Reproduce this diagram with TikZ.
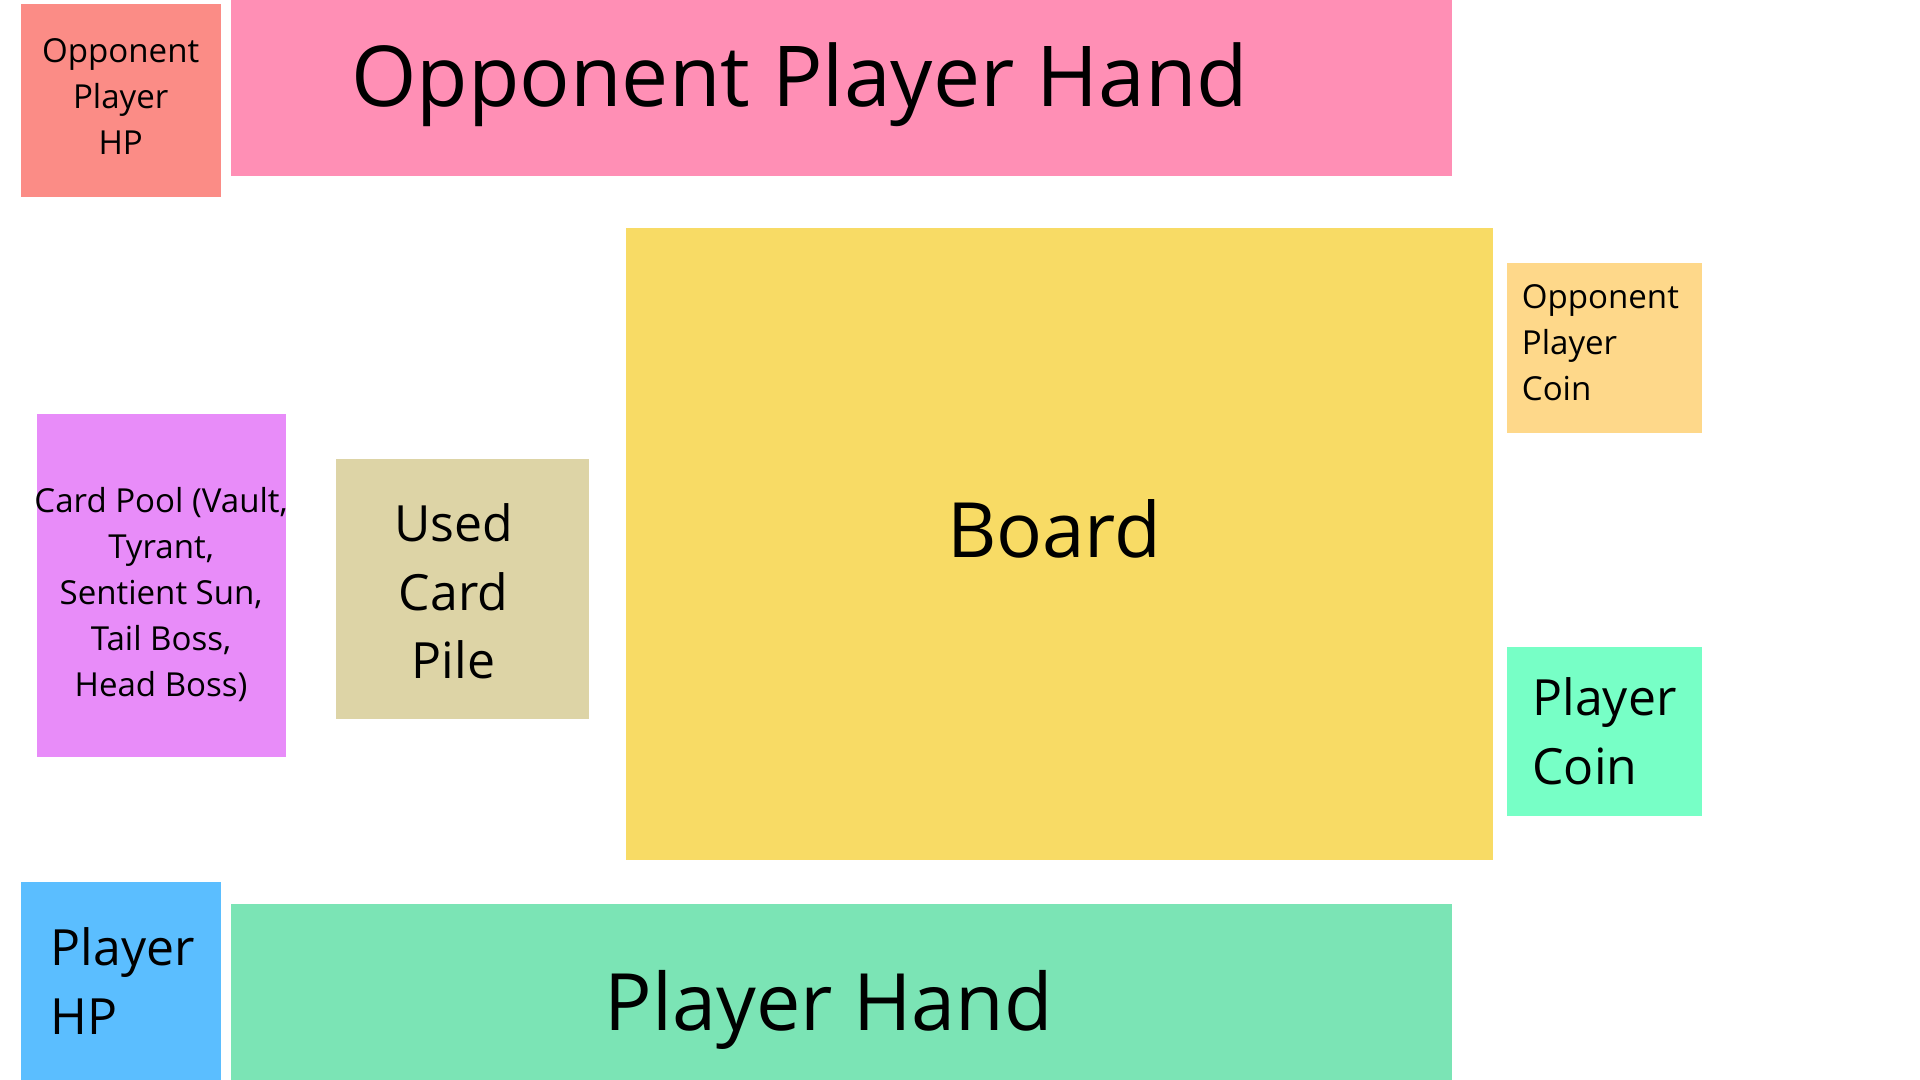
\documentclass[tikz,border=0pt]{standalone}
\usepackage{fontspec}
\setmainfont{Open Sans}
\usetikzlibrary{positioning}
\definecolor{hpred}{HTML}{FB8C86}
\definecolor{handpink}{HTML}{FF8FB5}
\definecolor{boardyellow}{HTML}{F8DB65}
\definecolor{coinorange}{HTML}{FED88A}
\definecolor{poolviolet}{HTML}{E88CF9}
\definecolor{pilekhaki}{HTML}{DDD4A6}
\definecolor{coinmint}{HTML}{77FFC6}
\definecolor{hpblue}{HTML}{5BBEFF}
\definecolor{handgreen}{HTML}{7BE4B5}
\tikzset{
  area/.style={rectangle,inner sep=0pt,outer sep=0pt},
  smalltxt/.style={align=center,font=\fontsize{9.4}{13.1}\selectfont},
  midtxt/.style={align=center,font=\fontsize{14.2}{19.6}\selectfont},
  bigtxt/.style={align=center,font=\fontsize{22.5}{27}\selectfont},
}
\begin{document}
\begin{tikzpicture}[x=0.01cm,y=-0.01cm]
      \useasboundingbox[fill=white] (0,0) rectangle (1920,1080);
      % opponent side
      \node[area, fill=hpred, minimum width=1.997cm, minimum height=1.936cm,
        label={[smalltxt, yshift=0.04cm]center:{Opponent\\Player\\HP}}]
        (oppHP) at (120.7,100.5) {};
      \node[area, fill=handpink, minimum width=12.203cm, minimum height=1.764cm,
        label={[bigtxt, font=\fontsize{23.9}{28}\selectfont, xshift=-0.42cm, yshift=0.04cm]
        center:Opponent Player Hand}]
        (oppHand) at (841.7,88.2) {};

      % middle
      \node[area, fill=boardyellow, minimum width=8.662cm, minimum height=6.322cm,
        label={[bigtxt, font=\fontsize{21.7}{26}\selectfont, xshift=-0.05cm, yshift=0.15cm]
        center:Board}]
        (board) at (1059.2,544) {};
      \node[area, fill=coinorange, minimum width=1.948cm, minimum height=1.691cm,
        label={[smalltxt, align=left, xshift=-0.04cm, yshift=0.05cm]
        center:{Opponent\\Player\\Coin}}]
        (oppCoin) at (1604.4,348) {};
      \node[area, fill=poolviolet, minimum width=2.487cm, minimum height=3.431cm,
        label={[smalltxt, yshift=-0.09cm]
        center:{Card Pool (Vault,\\Tyrant,\\Sentient Sun,\\Tail Boss,\\Head Boss)}}]
        (cardPool) at (161.1,585.6) {};
      \node[area, fill=pilekhaki, minimum width=2.536cm, minimum height=2.597cm,
        label={[midtxt, xshift=-0.09cm, yshift=-0.02cm]center:{Used\\Card\\Pile}}]
        (usedPile) at (462.5,589.3) {};
      \node[area, fill=coinmint, minimum width=1.948cm, minimum height=1.691cm,
        label={[midtxt, align=left]center:{Player\\Coin}}]
        (playerCoin) at (1604.4,731.5) {};

      % player side
      \node[area, fill=hpblue, minimum width=1.997cm, minimum height=1.98cm,
        label={[midtxt, align=left, xshift=0.02cm]center:{Player\\HP}}]
        (playerHP) at (120.7,981) {};
      \node[area, fill=handgreen, minimum width=12.203cm, minimum height=1.76cm,
        label={[bigtxt, xshift=-0.13cm, yshift=-0.18cm]center:Player Hand}]
        (playerHand) at (841.7,992) {};
\end{tikzpicture}
\end{document}
